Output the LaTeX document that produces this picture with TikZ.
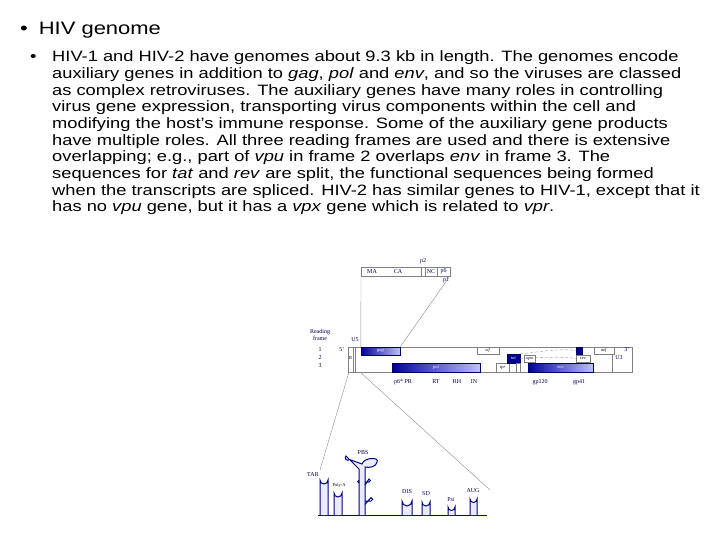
\documentclass[tikz,border=0pt]{standalone}
\usepackage{fontspec}
\setmainfont[FakeStretch=1.22]{Liberation Sans}
\newfontfamily\serifl{Liberation Serif}
\begin{document}
\begin{tikzpicture}[x=1pt,y=-1pt,
  body/.style={anchor=west,inner sep=0pt,font=\fontsize{15}{15}\selectfont},
  lab/.style={inner sep=0pt,font=\serifl\fontsize{6}{6}\selectfont,text=blue!30!black},
  gl/.style={inner sep=0pt,font=\serifl\fontsize{4.5}{4.5}\selectfont},
  ob/.style={draw=black!50,line width=0.4pt},
  gb/.style={left color=blue!60!black,right color=blue!25!white,draw=blue!40!black,line width=0.3pt},
  dk/.style={fill=blue!55!black,draw=blue!40!black},
  ln/.style={draw=black!45,line width=0.4pt},
  rna/.style={draw=blue!50!black,line width=1pt}]
\useasboundingbox (0,0) rectangle (720,540);
\node[body,font=\fontsize{18}{18}\selectfont] (t) at (20,30) {•\hspace{11pt}HIV genome};
\node[body] (b) at (30,58) {•};
\foreach \i/\s in {0/{HIV-1 and HIV-2 have genomes about 9.3 kb in length. The genomes encode},
1/{auxiliary genes in addition to \textit{gag}, \textit{pol} and \textit{env}, and so the viruses are classed},
2/{as complex retroviruses. The auxiliary genes have many roles in controlling},
3/{virus gene expression, transporting virus components within the cell and},
4/{modifying the host’s immune response. Some of the auxiliary gene products},
5/{have multiple roles. All three reading frames are used and there is extensive},
6/{overlapping; e.g., part of \textit{vpu} in frame 2 overlaps \textit{env} in frame 3. The},
7/{sequences for \textit{tat} and \textit{rev} are split, the functional sequences being formed},
8/{when the transcripts are spliced. HIV-2 has similar genes to HIV-1, except that it},
9/{has no \textit{vpu} gene, but it has a \textit{vpx} gene which is related to \textit{vpr}.}}
  \node[body] (l\i) at (52,58+16.67*\i) {\s};
\draw[ob] (361,267) rectangle (450,276);
\draw[ob] (420.7,267)--(420.7,276) (425,267)--(425,276) (437,267)--(437,276);
\node[lab] (ma) at (372,271.5) {MA};
\node[lab] (ca) at (398,271.5) {CA};
\node[lab] (nc) at (431,271.5) {NC};
\node[lab] (p6) at (443.5,271.5) {p6};
\node[lab] (p2) at (423,261) {p2};
\node[lab] (p1) at (446,280) {p1};
\draw[ob] (348,347) rectangle (632,372);
\draw[ob] (353,347)--(353,372) (355.5,347)--(355.5,372) (612,347)--(612,372);
\node[gl] (rl) at (350.5,358) {R};
\node[lab] (u5) at (355,340) {U5};
\node[lab] (u3) at (619,358) {U3};
\node[lab] (t3) at (627,350) {3\,'};
\node[lab] (t5) at (342,350) {5\,'};
\node[lab,align=center] (rf) at (320,335) {Reading\\[1pt]frame};
\node[lab] (f1) at (320,350) {1};
\node[lab] (f2) at (320,357.5) {2};
\node[lab] (f3) at (320,366) {3};
\node[gb,minimum width=39pt,minimum height=8pt,inner sep=0pt] (gag) at (380.5,351) {};
\node[gl,text=white] at (gag) {\textit{gag}};
\node[gb,minimum width=88pt,minimum height=9pt,inner sep=0pt] (pol) at (436,367.5) {};
\node[gl,text=white] at (pol) {\textit{pol}};
\node[gb,minimum width=65pt,minimum height=9pt,inner sep=0pt] (env) at (560.5,367.5) {};
\node[gl,text=white] at (env) {\textit{env}};
\node[ob,minimum width=22pt,minimum height=7pt,inner sep=0pt,fill=white,gl] (vif) at (488,350.5) {\textit{vif}};
\node[ob,minimum width=13pt,minimum height=9pt,inner sep=0pt,fill=white,gl] (vpr) at (502.5,367.5) {\textit{vpr}};
\node[dk,minimum width=13pt,minimum height=9pt,inner sep=0pt,gl,text=white] (tat) at (513.5,358.5) {\textit{tat}};
\draw[ob] (516,363) rectangle (520,372);
\node[ob,minimum width=11pt,minimum height=7pt,inner sep=0pt,fill=white,gl] (vpu) at (529.5,358.5) {\textit{vpu}};
\node[dk,minimum width=6pt,minimum height=7pt,inner sep=0pt] (tat2) at (579,350.5) {};
\node[ob,minimum width=14pt,minimum height=7pt,inner sep=0pt,fill=white,gl] (rev) at (583,358.5) {\textit{rev}};
\node[ob,minimum width=20pt,minimum height=7pt,inner sep=0pt,fill=white,gl] (nef) at (604,350.5) {\textit{nef}};
\draw[densely dashed,black!50,line width=0.3pt] (tat.north east) .. controls (540,352) and (560,348) .. (tat2.west);
\draw[densely dashed,black!50,line width=0.3pt] (tat.east) .. controls (540,358) and (560,356) .. (rev.west);
\node[lab] (pr) at (403,382) {p6* PR};
\node[lab] (rt) at (436,382) {RT};
\node[lab] (rh) at (457,382) {RH};
\node[lab] (in) at (474,382) {IN};
\node[lab] (g120) at (540,382) {gp120};
\node[lab] (g41) at (579,382) {gp41};
\draw[ln] (361,276)--(gag.north west);
\draw[ln] (450,276)--(gag.north east);
\coordinate (s1) at (349,372);
\coordinate (s2) at (360,372);
\draw[ln] (s1)--(320,470);
\draw[ln] (s2)--(490,490);
\draw[rna] (318,515)--(487,515);
\draw[rna,fill=blue!8] (320,515)--(320,480) arc(180:0:4)--(328,515);
\draw[rna,fill=blue!8] (334,515)--(334,493) arc(180:0:4)--(342,515);
\draw[rna,fill=blue!8] (359,515)--(359,469)--(346,456) arc(225:45:2.5)--(362,464)
  .. controls (364,457) and (380,457) .. (377,462) .. controls (376,467) and (370,468) .. (365,467)--(365,515);
\draw[rna] (359,483) arc(90:270:1.3) (365,482)--(369,482) arc(90:-90:1.5)--(365,485)
  (365,501)--(371,501) arc(90:-90:1.7)--(365,504.4);
\draw[rna,fill=blue!8] (402,515)--(402,501) arc(180:0:5)--(412,515);
\draw[rna,fill=blue!8] (422,515)--(422,502) arc(180:0:4)--(430,515);
\draw[rna,fill=blue!8] (448,515)--(448,507) arc(180:0:3.5)--(455,515);
\draw[rna,fill=blue!8] (470,515)--(470,499) arc(180:0:3.5)--(477,515);
\node[lab] (tar) at (313,475) {TAR};
\node[gl] (pa) at (339,485) {Poly-A};
\node[lab] (pbs) at (363,453) {PBS};
\node[lab] (dis) at (407,492) {DIS};
\node[lab] (sd) at (426,494) {SD};
\node[lab] (psi) at (451,500) {Psi};
\node[lab] (aug) at (473,491) {AUG};
\end{tikzpicture}
\end{document}
